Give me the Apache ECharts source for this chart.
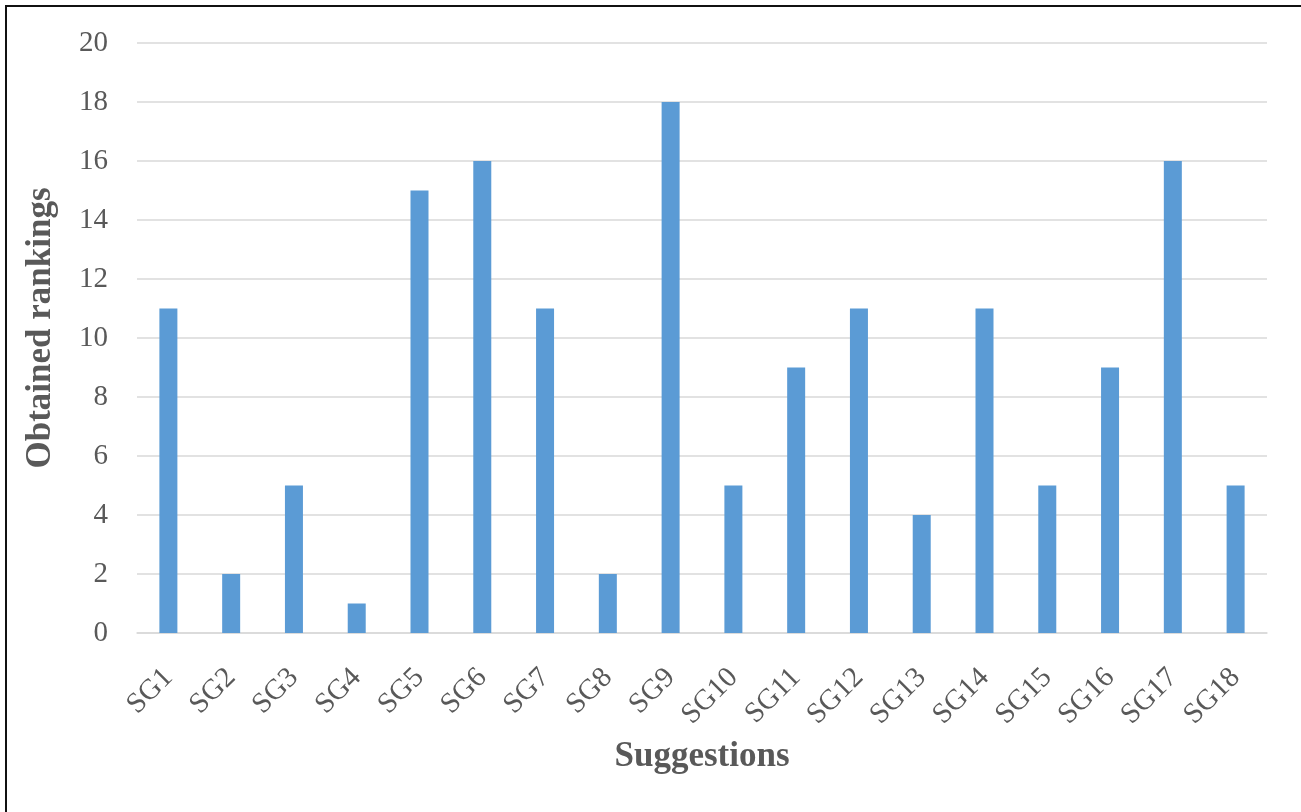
<!DOCTYPE html>
<html>
<head>
<meta charset="utf-8">
<script src="https://cdn.jsdelivr.net/npm/echarts@6/dist/echarts.min.js"></script>
<style>
  html, body { margin: 0; padding: 0; background: #fff; }
  #chart { position: absolute; left: 0; top: 0; width: 1301px; height: 812px; }
  #frame { position: absolute; left: 5px; top: 5px; right: 0; bottom: 0;
           border-top: 2px solid #111; border-left: 2px solid #111; pointer-events: none; }
</style>
</head>
<body>
<div id="chart"></div>
<div id="frame"></div>
<script>
const categories = ['SG1','SG2','SG3','SG4','SG5','SG6','SG7','SG8','SG9','SG10','SG11','SG12','SG13','SG14','SG15','SG16','SG17','SG18'];
const rankings = [11, 2, 5, 1, 15, 16, 11, 2, 18, 5, 9, 11, 4, 11, 5, 9, 16, 5];
const yTitle = 'Obtained rankings';
const xTitle = 'Suggestions';

const serif = '"Liberation Serif", "DejaVu Serif", serif';
const chart = echarts.init(document.getElementById('chart'));
chart.setOption({
  animation: false,
  grid: { left: 137, right: 34, top: 43, bottom: 179, containLabel: false },
  xAxis: {
    type: 'category',
    data: categories,
    name: xTitle,
    nameLocation: 'middle',
    nameGap: 106,
    nameTextStyle: { fontFamily: serif, fontSize: 35, fontWeight: 'bold', color: '#595959' },
    axisLine: { lineStyle: { color: '#d9d9d9', width: 1.5 } },
    axisTick: { show: false },
    axisLabel: { rotate: 45, fontFamily: serif, fontSize: 29, color: '#595959', margin: 40 }
  },
  yAxis: {
    type: 'value',
    min: 0, max: 20, interval: 2,
    name: yTitle,
    nameLocation: 'middle',
    nameGap: 79,
    nameTextStyle: { fontFamily: serif, fontSize: 35, fontWeight: 'bold', color: '#595959', padding: [0, 0, 0, 20] },
    axisLine: { show: false },
    axisTick: { show: false },
    axisLabel: { fontFamily: serif, fontSize: 29, color: '#595959', margin: 29 },
    splitLine: { lineStyle: { color: '#d9d9d9', width: 1.5 } }
  },
  series: [{
    type: 'bar',
    data: rankings,
    barWidth: 18,
    itemStyle: { color: '#5b9bd5' }
  }]
});
</script>
</body>
</html>
